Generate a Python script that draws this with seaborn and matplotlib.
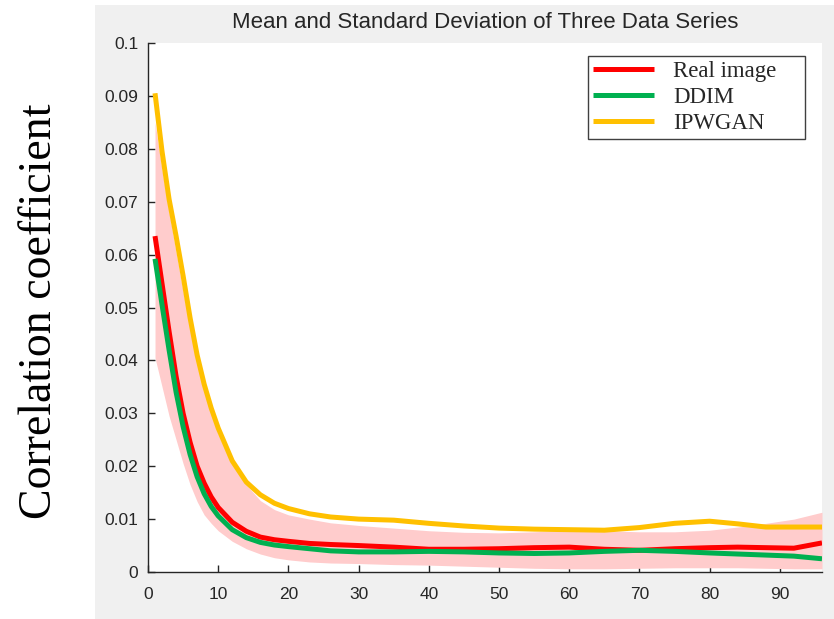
import matplotlib
matplotlib.use("Agg")
import matplotlib.pyplot as plt
import seaborn as sns
import pandas as pd
from matplotlib.patches import Rectangle
from matplotlib.lines import Line2D
from matplotlib.ticker import FixedLocator, FixedFormatter

# ---- data ----
x_vals = [1, 2, 3, 4, 5, 6, 7, 8, 9, 10, 12, 14, 16, 18, 20, 23, 26, 30, 35, 40,
          45, 50, 55, 60, 65, 70, 75, 80, 84, 88, 92, 96]
real_image = [0.0635, 0.0545, 0.0455, 0.0370, 0.0300, 0.0245, 0.0200, 0.0168, 0.0142, 0.0122,
              0.0094, 0.0077, 0.0066, 0.0061, 0.0058, 0.0054, 0.0052, 0.0050, 0.0047, 0.0043,
              0.0043, 0.0044, 0.0046, 0.0047, 0.0043, 0.0041, 0.0044, 0.0046, 0.0047, 0.0046,
              0.0045, 0.0055]
ddim = [0.0592, 0.0505, 0.0420, 0.0340, 0.0275, 0.0222, 0.0180, 0.0148, 0.0124, 0.0106,
        0.0080, 0.0065, 0.0056, 0.0051, 0.0048, 0.0044, 0.0040, 0.0038, 0.0038, 0.0039,
        0.0038, 0.0036, 0.0035, 0.0036, 0.0039, 0.0041, 0.0039, 0.0036, 0.0034, 0.0032,
        0.0030, 0.0025]
ipwgan = [0.0905, 0.0795, 0.0705, 0.0635, 0.0560, 0.0480, 0.0410, 0.0355, 0.0310, 0.0272,
          0.0210, 0.0170, 0.0146, 0.0130, 0.0120, 0.0110, 0.0104, 0.0100, 0.0098, 0.0092,
          0.0087, 0.0083, 0.0081, 0.0080, 0.0079, 0.0084, 0.0092, 0.0096, 0.0091, 0.0085,
          0.0085, 0.0085]
band_upper = [0.0850, 0.0760, 0.0680, 0.0605, 0.0530, 0.0460, 0.0400, 0.0345, 0.0300, 0.0260,
              0.0205, 0.0165, 0.0135, 0.0118, 0.0108, 0.0100, 0.0093, 0.0088, 0.0083, 0.0078,
              0.0075, 0.0074, 0.0076, 0.0079, 0.0078, 0.0076, 0.0076, 0.0079, 0.0085, 0.0092,
              0.0100, 0.0113]
band_lower = [0.0405, 0.0350, 0.0295, 0.0250, 0.0205, 0.0165, 0.0133, 0.0108, 0.0092, 0.0078,
              0.0058, 0.0044, 0.0034, 0.0027, 0.0023, 0.0019, 0.0017, 0.0016, 0.0014, 0.0013,
              0.0011, 0.0009, 0.0007, 0.0006, 0.0006, 0.0007, 0.0008, 0.0008, 0.0008, 0.0007,
              0.0006, 0.0006]
series_names = ["Real image", "DDIM", "IPWGAN"]
series_colors = ["#FF0000", "#00B050", "#FFC000"]
x_ticks = [0, 10, 20, 30, 40, 50, 60, 70, 80, 90]
y_ticks = [0, 0.01, 0.02, 0.03, 0.04, 0.05, 0.06, 0.07, 0.08, 0.09, 0.1]
y_tick_labels = ["0", "0.01", "0.02", "0.03", "0.04", "0.05", "0.06", "0.07", "0.08", "0.09", "0.1"]
title = "Mean and Standard Deviation of Three Data Series"
ylabel = "Correlation coefficient"

# ---- figure ----
sns.set_style("white")
plt.rcParams["font.family"] = ["Liberation Sans", "DejaVu Sans"]

W, H = 834, 619
fig = plt.figure(figsize=(W / 100, H / 100), dpi=100)
fig.patch.set_facecolor("white")
bg = Rectangle((95 / W, 0), 1 - 95 / W, 1 - 5 / H, transform=fig.transFigure,
               facecolor="#F0F0F0", edgecolor="none", zorder=-10)
fig.patches.append(bg)

ax_l, ax_r, ax_t, ax_b = 148, 822, 43, 572
ax = fig.add_axes([ax_l / W, 1 - ax_b / H, (ax_r - ax_l) / W, (ax_b - ax_t) / H])
ax.set_zorder(5)
ax.set_facecolor("white")

ax.fill_between(x_vals, band_lower, band_upper, color="#FFCCCC", linewidth=0, zorder=1)

df = pd.DataFrame({
    "x": x_vals * 3,
    "value": real_image + ddim + ipwgan,
    "series": [series_names[0]] * len(x_vals) + [series_names[1]] * len(x_vals)
              + [series_names[2]] * len(x_vals),
})
sns.lineplot(data=df, x="x", y="value", hue="series", hue_order=series_names,
             palette=dict(zip(series_names, series_colors)), linewidth=3.6,
             legend=False, ax=ax, zorder=3)
for ln in ax.lines:
    ln.set_solid_capstyle("butt")
    ln.set_solid_joinstyle("round")

ax.set_xlim(0, 96)
ax.set_ylim(0, 0.1)
ax.xaxis.set_major_locator(FixedLocator(x_ticks))
ax.yaxis.set_major_locator(FixedLocator(y_ticks))
ax.yaxis.set_major_formatter(FixedFormatter(y_tick_labels))
ax.set_xlabel("")
ax.set_ylabel("")

for s in ["top", "right"]:
    ax.spines[s].set_visible(False)
for s in ["left", "bottom"]:
    ax.spines[s].set_color("#262626")
    ax.spines[s].set_linewidth(1.0)
ax.tick_params(axis="both", which="major", direction="in", length=5, width=1.0,
               color="#262626", labelcolor="#262626", labelsize=12.5,
               bottom=True, left=True, top=False, right=False)
ax.tick_params(axis="x", pad=11)
ax.tick_params(axis="y", pad=7)

ax.set_title(title, fontsize=16, color="#262626", pad=11)

fig.text(40 / W, 1 - 311 / H, ylabel, rotation=90, ha="center", va="center",
         fontsize=33, family=["Liberation Serif", "DejaVu Serif"], color="black")

handles = [Line2D([0], [0], color=c, linewidth=3.6, solid_capstyle="butt") for c in series_colors]
leg_x0 = (588 - ax_l) / (ax_r - ax_l)
leg_w = (805 - 588) / (ax_r - ax_l)
leg_top = 1 - (56 - ax_t) / (ax_b - ax_t)
leg = ax.legend(handles, series_names, loc="upper left", mode="expand",
                bbox_to_anchor=(leg_x0, leg_top - 0.2, leg_w, 0.2),
                prop={"family": ["Liberation Serif", "DejaVu Serif"], "size": 16.5},
                frameon=True, fancybox=False, edgecolor="#404040", framealpha=1,
                handlelength=2.65, handletextpad=0.85, labelspacing=0.22,
                borderpad=0.22, borderaxespad=0)
leg.get_frame().set_linewidth(1.0)

fig.savefig("out.png", dpi=100)
